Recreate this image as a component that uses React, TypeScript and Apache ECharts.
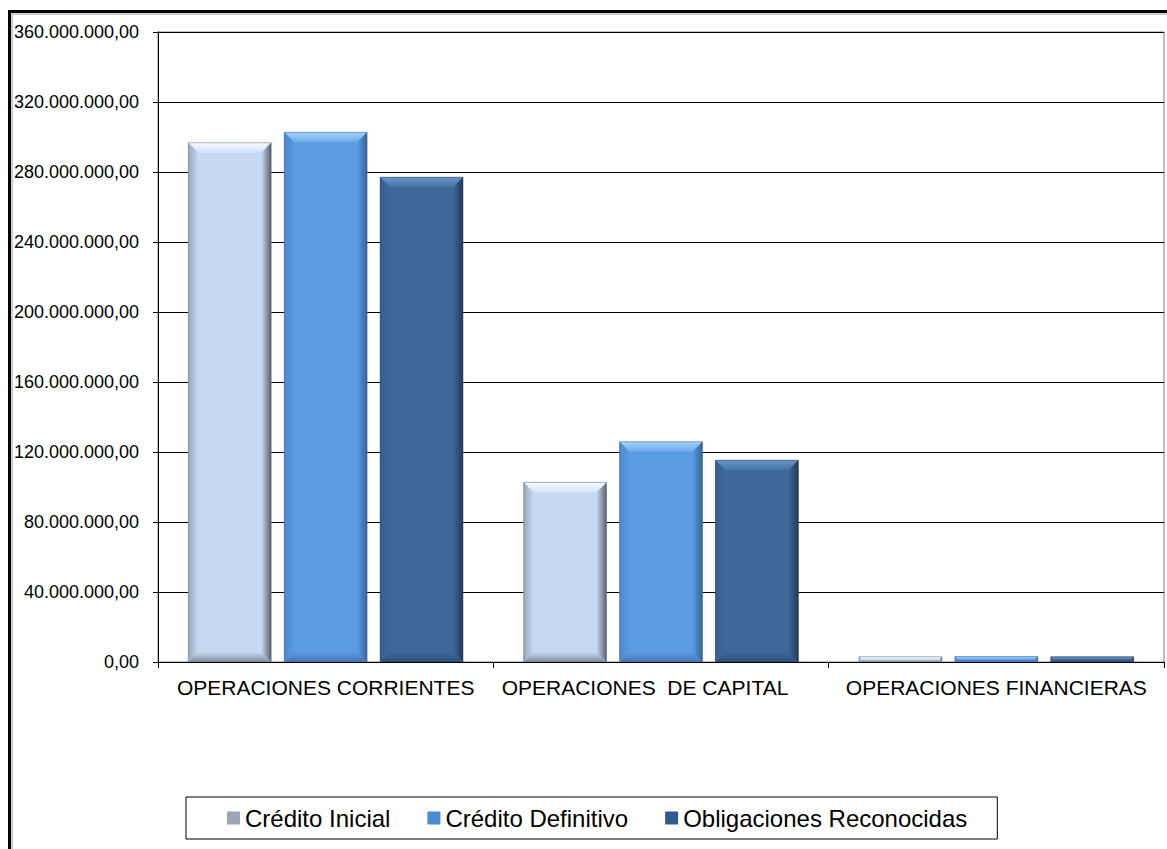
import React, { useEffect, useRef } from "react";
import * as echarts from "echarts";

const CATEGORIES = ["OPERACIONES CORRIENTES", "OPERACIONES  DE CAPITAL", "OPERACIONES FINANCIERAS"];
const SERIES_NAMES = ["Crédito Inicial", "Crédito Definitivo", "Obligaciones Reconocidas"];
const CREDITO_INICIAL = [296700000, 102600000, 3000000];
const CREDITO_DEFINITIVO = [302700000, 125800000, 3100000];
const OBLIGACIONES = [277000000, 115300000, 3000000];
const Y_MIN = 0;
const Y_MAX = 360000000;
const Y_STEP = 40000000;

const FONT = "'Liberation Sans', Arial, sans-serif";

type Palette = { main: string; topA: string; topB: string; left: string; right: string; bottom: string; legend: string };
const PALETTES: Palette[] = [
  { main: "#C6D9F1", topA: "#F6FAFE", topB: "#D3E3F6", left: "#98A7BA", right: "#58626F", bottom: "#7F8C9D", legend: "#9AA6B6" },
  { main: "#5B9BE1", topA: "#A6D2FB", topB: "#6AA9EC", left: "#4E88CA", right: "#35649C", bottom: "#4375B2", legend: "#4A8BD6" },
  { main: "#3D6899", topA: "#6A96C8", topB: "#4872A4", left: "#35608F", right: "#22395A", bottom: "#2C4E7A", legend: "#2F5B92" },
];

const fmt = (v: number) =>
  Math.round(v).toString().replace(/\B(?=(\d{3})+(?!\d))/g, ".") + ",00";

function lin(x2: number, y2: number, a: string, b: string) {
  return { type: "linear", x: 0, y: 0, x2, y2, colorStops: [{ offset: 0, color: a }, { offset: 1, color: b }] };
}

function makeRender(sIdx: number) {
  const p = PALETTES[sIdx];
  return (params: any, api: any) => {
    const ci = api.value(0);
    const v = api.value(1);
    const base = api.coord([ci, 0]);
    const top = api.coord([ci, v]);
    const bandW = api.size([1, 0])[0];
    const barW = bandW * 0.247;
    const gap = bandW * 0.039;
    const cx = base[0] + (sIdx - 1) * (barW + gap);
    const x0 = cx - barW / 2;
    const x1 = cx + barW / 2;
    const y0 = top[1];
    const y1 = base[1];
    const h = y1 - y0;
    const b = Math.max(0, Math.min(10, h / 2, barW / 2));
    return {
      type: "group",
      children: [
        { type: "rect", shape: { x: x0, y: y0, width: barW, height: h }, style: { fill: p.main } },
        {
          type: "polygon",
          shape: { points: [[x0, y0], [x1, y0], [x1 - b, y0 + b], [x0 + b, y0 + b]] },
          style: { fill: lin(0, 1, p.topA, p.topB) },
        },
        {
          type: "polygon",
          shape: { points: [[x0, y0], [x0 + b, y0 + b], [x0 + b, y1 - b], [x0, y1]] },
          style: { fill: lin(1, 0, p.left, p.main) },
        },
        {
          type: "polygon",
          shape: { points: [[x1, y0], [x1, y1], [x1 - b, y1 - b], [x1 - b, y0 + b]] },
          style: { fill: lin(1, 0, p.main, p.right) },
        },
        {
          type: "polygon",
          shape: { points: [[x0, y1], [x0 + b, y1 - b], [x1 - b, y1 - b], [x1, y1]] },
          style: { fill: lin(0, 1, p.main, p.bottom) },
        },
        {
          type: "rect",
          shape: { x: x0, y: y0, width: barW, height: h },
          style: { fill: "none", stroke: p.right, lineWidth: 0.8, opacity: 0.6 },
        },
      ],
    };
  };
}

export default function App() {
  const ref = useRef<HTMLDivElement>(null);
  useEffect(() => {
    if (!ref.current) return;
    const chart = echarts.init(ref.current, undefined, { renderer: "svg" });
    const seriesData = [CREDITO_INICIAL, CREDITO_DEFINITIVO, OBLIGACIONES];
    chart.setOption({
      animation: false,
      backgroundColor: "#ffffff",
      textStyle: { fontFamily: FONT },
      grid: {
        left: 158,
        top: 32,
        right: 3,
        bottom: 187,
        show: true,
        borderColor: "#808080",
        borderWidth: 1,
        backgroundColor: "transparent",
      },
      legend: {
        data: SERIES_NAMES,
        left: 186,
        top: 797,
        orient: "horizontal",
        icon: "rect",
        itemWidth: 13,
        itemHeight: 13,
        itemGap: 37,
        padding: [9, 30, 9, 41],
        borderColor: "#000",
        borderWidth: 1,
        textStyle: { fontFamily: FONT, fontSize: 24, color: "#000" },
      },
      xAxis: {
        type: "category",
        data: CATEGORIES,
        axisLine: { lineStyle: { color: "#000", width: 1 } },
        axisTick: { show: true, length: 6, lineStyle: { color: "#000" } },
        axisLabel: {
          interval: 0,
          margin: 15,
          color: "#000",
          fontFamily: FONT,
          fontSize: 21,
          formatter: (val: string, idx: number) => (idx === 1 ? "{shift|" + val + "}" : val),
          rich: { shift: { fontFamily: FONT, fontSize: 21, color: "#000", padding: [0, 32, 0, 0] } },
        },
        splitLine: { show: false },
      },
      yAxis: {
        type: "value",
        min: Y_MIN,
        max: Y_MAX,
        interval: Y_STEP,
        axisLine: { show: true, lineStyle: { color: "#000", width: 1 } },
        axisTick: { show: true, length: 5, lineStyle: { color: "#000" } },
        axisLabel: { color: "#000", fontFamily: FONT, fontSize: 18, margin: 19, formatter: fmt },
        splitLine: { show: true, lineStyle: { color: "#000", width: 1 } },
      },
      graphic: [
        {
          type: "rect",
          shape: { x: 9.5, y: 11.5, width: 1300, height: 1000 },
          style: { fill: "none", stroke: "#000", lineWidth: 3 },
          silent: true,
          z: 100,
        },
        {
          type: "rect",
          shape: { x: 12, y: 14, width: 1300, height: 1000 },
          style: { fill: "none", stroke: "#9a9a9a", lineWidth: 1 },
          silent: true,
          z: 100,
        },
      ],
      series: seriesData.map((arr, i) => ({
        type: "custom",
        name: SERIES_NAMES[i],
        itemStyle: { color: PALETTES[i].legend },
        encode: { x: 0, y: 1 },
        data: arr.map((v, ci) => [ci, v]),
        renderItem: makeRender(i),
        clip: true,
      })),
    });
    return () => chart.dispose();
  }, []);
  return (
    <div
      ref={ref}
      style={{ position: "fixed", left: 0, top: 0, width: 1167, height: 849, background: "#fff" }}
    />
  );
}
